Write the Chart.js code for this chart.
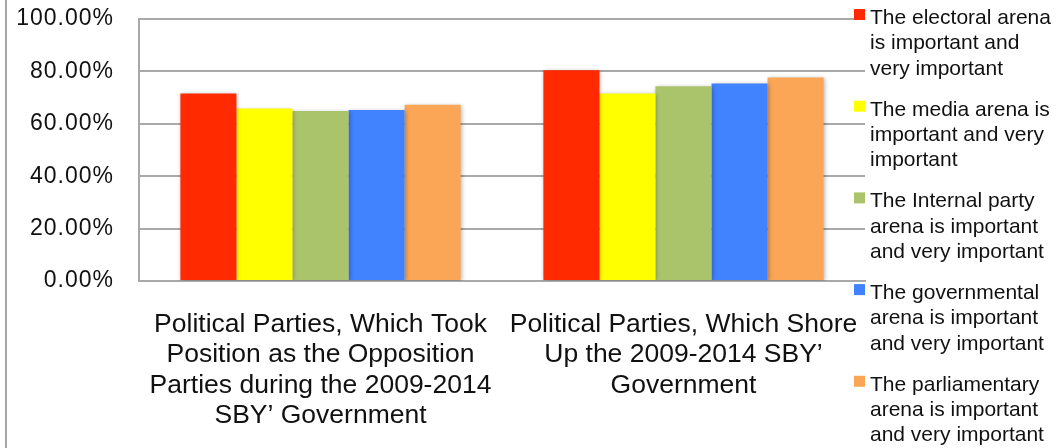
<!DOCTYPE html>
<html>
<head>
<meta charset="utf-8">
<title>Arena importance by party position</title>
<script src="https://cdn.jsdelivr.net/npm/chart.js@4/dist/chart.umd.min.js"></script>
<style>
    html, body { margin: 0; padding: 0; background: #fff; }
    #chart-wrap { position: relative; width: 1062px; height: 448px; }
    #chart-wrap .frame-line {
        position: absolute; left: 5px; top: 0; width: 2px; height: 448px; background: #a6a6a6;
    }
</style>
</head>
<body>
<div id="chart-wrap">
    <div class="frame-line"></div>
    <canvas id="arenaChart"></canvas>
</div>
<script>
// Category labels, already broken into lines
const categories = [
    ['Political Parties, Which Took', 'Position as the Opposition', 'Parties during the 2009-2014', 'SBY\u2019 Government'],
    ['Political Parties, Which Shore', 'Up the 2009-2014 SBY\u2019', 'Government']
];

// Legend text, one array of lines per arena
const arenaLabels = [
    ['The electoral arena', 'is important and', 'very important'],
    ['The media arena is', 'important and very', 'important'],
    ['The Internal party', 'arena is important', 'and very important'],
    ['The governmental', 'arena is important', 'and very important'],
    ['The parliamentary', 'arena is important', 'and very important']
];

// Share of respondents (%) per arena: [opposition, government supporters]
const electoralValues = [71.6, 80.4];
const mediaValues = [65.8, 71.6];
const internalValues = [64.9, 74.3];
const governmentalValues = [65.3, 75.4];
const parliamentaryValues = [67.3, 77.7];

const yTicks = [0, 20, 40, 60, 80, 100];

const arenaColors = ['#ff2a00', '#ffff00', '#aac46c', '#4082ff', '#faa656'];
const seriesValues = [electoralValues, mediaValues, internalValues, governmentalValues, parliamentaryValues];

const FONT = '"Liberation Sans", Arial, Helvetica, sans-serif';
const GRID_COLOR = '#a9a9a9';

/**
 * Soft drop shadow under the bars.
 */
const barShadowPlugin = {
    id: 'barShadow',
    beforeDatasetsDraw(chart) {
        const ctx = chart.ctx;
        ctx.save();
        ctx.shadowColor = 'rgba(0, 0, 0, 0.28)';
        ctx.shadowBlur = 4;
        ctx.shadowOffsetX = 1;
        ctx.shadowOffsetY = 1;
    },
    afterDatasetsDraw(chart) {
        chart.ctx.restore();
    }
};

/**
 * Wider letter spacing for the percentage labels on the value axis.
 */
const tickSpacingPlugin = {
    id: 'tickSpacing',
    afterUpdate(chart) {
        const scale = chart.scales.y;
        if (!scale || scale._spaced) return;
        const drawLabels = scale.drawLabels;
        scale.drawLabels = function (area) {
            const ctx = this.ctx;
            ctx.save();
            ctx.letterSpacing = '1px';
            drawLabels.call(this, area);
            ctx.restore();
        };
        scale._spaced = true;
    }
};

/**
 * Legend on the right, each entry wrapped over three lines.
 */
const sideLegendPlugin = {
    id: 'sideLegend',
    afterDraw(chart) {
        const ctx = chart.ctx;
        const left = 854;
        const box = 11;
        const itemGap = 91.7;
        const lineGap = 25.3;
        ctx.save();
        ctx.font = '21px ' + FONT;
        ctx.textAlign = 'left';
        ctx.textBaseline = 'alphabetic';
        chart.data.datasets.forEach((ds, i) => {
            const top = 9 + i * itemGap;
            ctx.fillStyle = ds.backgroundColor;
            ctx.fillRect(left, top, box, box);
            ctx.fillStyle = '#111';
            arenaLabels[i].forEach((line, k) => {
                ctx.fillText(line, left + 16, top + 15 + k * lineGap);
            });
        });
        ctx.restore();
    }
};

function initArenaChart() {
    const ctx = document.getElementById('arenaChart');
    if (!ctx) return;

    new Chart(ctx, {
        type: 'bar',
        data: {
            labels: categories,
            datasets: seriesValues.map((values, i) => ({
                label: arenaLabels[i].join(' '),
                data: values,
                backgroundColor: arenaColors[i],
                borderWidth: 0,
                categoryPercentage: 0.772,
                barPercentage: 1.0
            }))
        },
        options: {
            responsive: true,
            maintainAspectRatio: false,
            animation: false,
            layout: {
                padding: { top: 19, right: 197, bottom: 0, left: 0 }
            },
            plugins: {
                legend: { display: false },
                tooltip: { enabled: false }
            },
            scales: {
                x: {
                    grid: { display: false, drawTicks: false },
                    border: { display: true, color: GRID_COLOR, width: 2 },
                    ticks: {
                        color: '#111',
                        padding: 28,
                        maxRotation: 0,
                        autoSkip: false,
                        font: { family: FONT, size: 26.5, lineHeight: 1.15 }
                    },
                    afterFit(scale) { scale.height = 167; }
                },
                y: {
                    min: 0,
                    max: 100,
                    afterBuildTicks(scale) {
                        scale.ticks = yTicks.map(v => ({ value: v }));
                    },
                    grid: { color: GRID_COLOR, lineWidth: 2, drawTicks: false },
                    border: { display: true, color: GRID_COLOR, width: 2 },
                    ticks: {
                        color: '#111',
                        padding: 25,
                        font: { family: FONT, size: 23 },
                        callback: (v) => v.toFixed(2) + '%'
                    },
                    afterFit(scale) {
                        scale.width = 139;
                        scale.paddingTop = 0;
                        scale.paddingBottom = 0;
                    }
                }
            }
        },
        plugins: [barShadowPlugin, tickSpacingPlugin, sideLegendPlugin]
    });
}

document.addEventListener('DOMContentLoaded', initArenaChart);
</script>
</body>
</html>
